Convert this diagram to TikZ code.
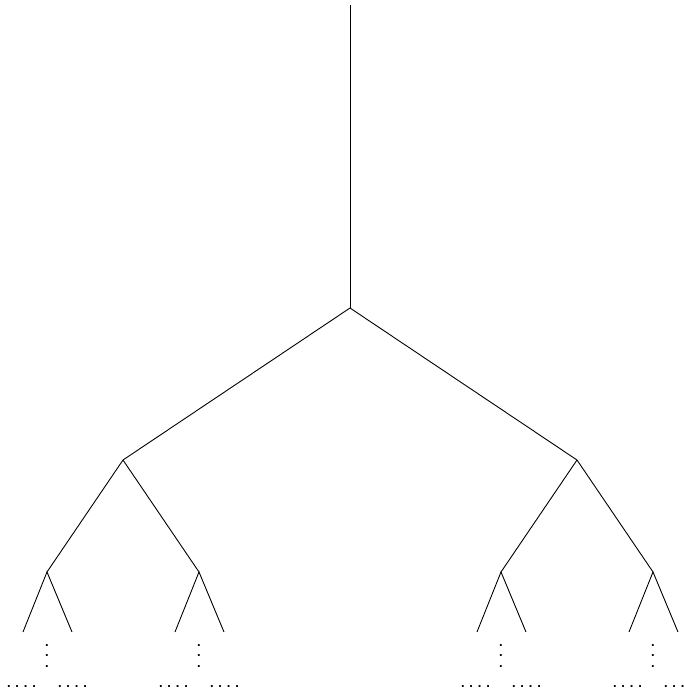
\documentclass[tikz,border=0pt]{standalone}
\usepackage{fontspec}
\setmainfont{Liberation Sans}
\usetikzlibrary{positioning,calc}

\begin{document}
\begin{tikzpicture}[
  x=1pt, y=-1pt,
  br/.style={line width=0.9pt},
  hdots/.style={inner sep=0pt, anchor=base, font=\fontsize{13}{10.5}\selectfont\bfseries},
  vdots/.style={inner sep=0pt, anchor=base, align=center, font=\fontsize{13}{10.5}\selectfont\bfseries}
]
\useasboundingbox (0,0) rectangle (684,690);
% trunk and main fork
\coordinate (top) at (350,5);
\coordinate (r) at (350,308);
\coordinate (a) at (123,460);
\coordinate (b) at (577,460);
\coordinate (a1) at (47,572);
\coordinate (a2) at (199,572);
\coordinate (b1) at (501,572);
\coordinate (b2) at (653,572);

\draw[br] (top) -- (r);
\foreach \a/\b in {r/a, r/b, a/a1, a/a2, b/b1, b/b2} \draw[br] (\a) -- (\b);

% small forks with dots below
\foreach \n in {a1, a2, b1, b2} {
  \coordinate (\n l) at ($(\n)+(-24,60)$);
  \coordinate (\n r) at ($(\n)+(25,60)$);
  \draw[br] (\n l) -- (\n) -- (\n r);
  \node[vdots] (\n v) at ($(\n)+(0,95)$) {.\\.\\.};
  \node[hdots] (\n x) at ($(\n)+(-25.5,115)$) {. . . .};
  \node[hdots] (\n y) at ($(\n)+(25.5,115)$) {. . . .};
}
\end{tikzpicture}
\end{document}
